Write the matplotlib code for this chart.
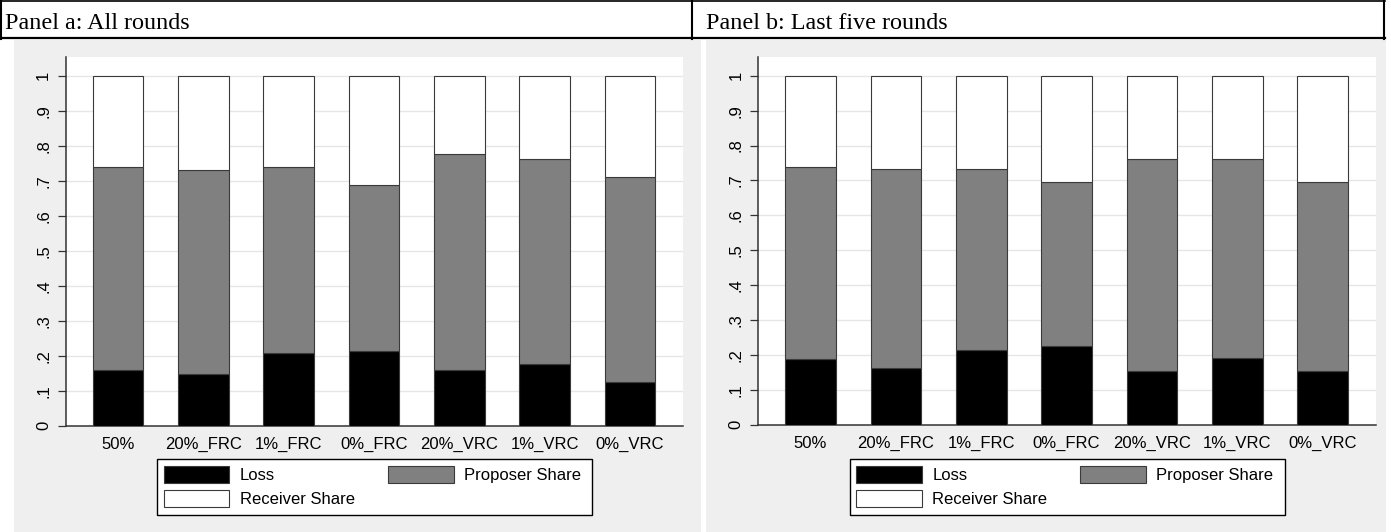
import numpy as np
import matplotlib
matplotlib.use("Agg")
import matplotlib.pyplot as plt
from matplotlib.patches import Patch, Rectangle

categories = ['50%', '20%_FRC', '1%_FRC', '0%_FRC', '20%_VRC', '1%_VRC', '0%_VRC']

# shares of the pie, all rounds
loss_all = [0.159, 0.148, 0.209, 0.213, 0.159, 0.176, 0.125]
proposer_all = [0.579, 0.582, 0.529, 0.475, 0.617, 0.585, 0.585]

# shares of the pie, last five rounds
loss_last = [0.188, 0.163, 0.214, 0.226, 0.153, 0.192, 0.153]
proposer_last = [0.551, 0.570, 0.519, 0.468, 0.608, 0.569, 0.541]

titles = ['Panel a: All rounds', 'Panel b: Last five rounds']
yticks = [0, 0.1, 0.2, 0.3, 0.4, 0.5, 0.6, 0.7, 0.8, 0.9, 1.0]
ytick_labels = ['0', '.1', '.2', '.3', '.4', '.5', '.6', '.7', '.8', '.9', '1']

W, H = 1391, 532
BG = '#efefef'
EDGE = '#3a3a3a'
FS = 12
sans = ['Liberation Sans', 'Arial', 'DejaVu Sans']
serif = ['Liberation Serif', 'Times New Roman', 'DejaVu Serif']

fig = plt.figure(figsize=(W / 100, H / 100), dpi=100)
fig.patch.set_facecolor('white')


def px_rect(x0, y0, x1, y1):
    # pixel box (top-left origin) -> figure fraction [left, bottom, width, height]
    return [x0 / W, 1 - y1 / H, (x1 - x0) / W, (y1 - y0) / H]


# header table and gray graph regions, drawn in pixel units
hdr = fig.add_axes([0, 0, 1, 1], zorder=0)
hdr.set_xlim(0, W)
hdr.set_ylim(H, 0)
hdr.axis('off')
hdr.add_patch(Rectangle((14, 40), 701 - 14, H - 40, facecolor=BG, edgecolor='none'))
hdr.add_patch(Rectangle((706, 40), 1386 - 706, H - 40, facecolor=BG, edgecolor='none'))
hdr.plot([0.5, 1384.5], [1, 1], color='black', lw=1.2)
hdr.plot([0.5, 1384.5], [38, 38], color='black', lw=1.6)
for xv in [0.8, 692, 1384.3]:
    hdr.plot([xv, xv], [0.5, 38.5], color='black', lw=1.5)
hdr.text(5, 29, titles[0], family=serif, fontsize=17.4, va='baseline', ha='left')
hdr.text(706.5, 29, titles[1], family=serif, fontsize=17.4, va='baseline', ha='left')

panels = [
    (loss_all, proposer_all, (65.7, 57, 683.3, 425.7)),
    (loss_last, proposer_last, (758, 57, 1376, 424.7)),
]

for loss, proposer, box in panels:
    ax = fig.add_axes(px_rect(*box), zorder=1)
    loss = np.array(loss)
    proposer = np.array(proposer)
    receiver = 1 - loss - proposer
    x = np.arange(len(categories))
    w = 0.594

    ax.bar(x, loss, w, color='black', edgecolor=EDGE, linewidth=0.8, zorder=3)
    ax.bar(x, proposer, w, bottom=loss, color='#808080', edgecolor=EDGE, linewidth=0.8, zorder=3)
    ax.bar(x, receiver, w, bottom=loss + proposer, color='white', edgecolor=EDGE, linewidth=0.8, zorder=3)

    ax.set_xlim(-0.615, 6.625)
    top = 1 + 18.7 / (box[3] - 75.7)
    ax.set_ylim(0, top)
    ax.set_facecolor('white')
    for s in ['top', 'right']:
        ax.spines[s].set_visible(False)
    for s in ['left', 'bottom']:
        ax.spines[s].set_color('#333333')
        ax.spines[s].set_linewidth(1.1)

    ax.set_yticks(yticks)
    ax.set_yticklabels(ytick_labels, rotation=90, va='center', family=sans, fontsize=FS)
    ax.tick_params(axis='y', length=5.5, width=0.9, color='#333333', pad=5)
    ax.set_xticks(x)
    ax.set_xticklabels(categories, family=sans, fontsize=FS)
    ax.tick_params(axis='x', length=0, pad=8)
    for yv in yticks[1:]:
        ax.axhline(yv, color='#e6e6e6', lw=1.0, zorder=1)

    # legend: frame drawn separately so the inner padding can differ per side
    axw = box[2] - box[0]
    axh = box[3] - box[1]
    frame_l = (box[0] + box[2]) / 2 - 217.5
    frame_r = frame_l + 435
    frame_t, frame_b = 459, 514.7
    ax.add_patch(Rectangle(((frame_l - box[0]) / axw, (box[3] - frame_b) / axh),
                           435 / axw, (frame_b - frame_t) / axh,
                           transform=ax.transAxes, clip_on=False,
                           facecolor='white', edgecolor='black', lw=1.0, zorder=5))

    # column-major fill: Loss / Receiver in col 1, Proposer in col 2
    handles = [Patch(facecolor='black', edgecolor=EDGE, lw=0.8),
               Patch(facecolor='white', edgecolor=EDGE, lw=0.8),
               Patch(facecolor='#808080', edgecolor=EDGE, lw=0.8)]
    labels = ['Loss', 'Receiver Share', 'Proposer Share']
    c_l = frame_l + 6.5
    c_r = frame_r - 11
    c_t = frame_t + 6.5
    leg = ax.legend(handles, labels, ncol=2, loc='upper left',
                    bbox_to_anchor=((c_l - box[0]) / axw, (box[3] - c_t) / axh,
                                    (c_r - c_l) / axw, 0),
                    mode='expand', frameon=False,
                    prop={'family': sans, 'size': FS},
                    handlelength=3.95, handleheight=1.24, labelspacing=0.4,
                    handletextpad=0.62, borderpad=0, borderaxespad=0,
                    columnspacing=1.5)
    leg.set_zorder(6)

fig.savefig('out.png', dpi=100, facecolor='white')
